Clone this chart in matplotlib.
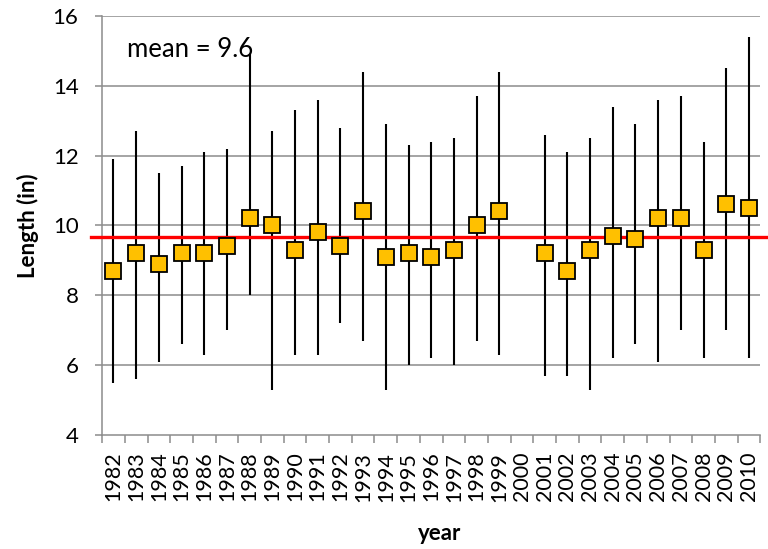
import numpy as np
import matplotlib
matplotlib.use("Agg")
import matplotlib.pyplot as plt

years = [str(y) for y in range(1982, 2011)]
mean_len = [8.7, 9.2, 8.9, 9.2, 9.2, 9.4, 10.2, 10.0, 9.3, 9.8, 9.4, 10.4, 9.1, 9.2,
            9.1, 9.3, 10.0, 10.4, np.nan, 9.2, 8.7, 9.3, 9.7, 9.6, 10.2, 10.2, 9.3, 10.6, 10.5]
max_len = [11.9, 12.7, 11.5, 11.7, 12.1, 12.2, 14.9, 12.7, 13.3, 13.6, 12.8, 14.4, 12.9, 12.3,
           12.4, 12.5, 13.7, 14.4, np.nan, 12.6, 12.1, 12.5, 13.4, 12.9, 13.6, 13.7, 12.4, 14.5, 15.4]
min_len = [5.5, 5.6, 6.1, 6.6, 6.3, 7.0, 8.0, 5.3, 6.3, 6.3, 7.2, 6.7, 5.3, 6.0,
           6.2, 6.0, 6.7, 6.3, np.nan, 5.7, 5.7, 5.3, 6.2, 6.6, 6.1, 7.0, 6.2, 7.0, 6.2]
overall_mean = 9.68
mean_label = "mean = 9.6"

plt.rcParams['font.family'] = ['Lato', 'DejaVu Sans']

fig = plt.figure(figsize=(7.68, 5.49), dpi=100)
ax = fig.add_axes([0.133, 0.2077, 0.857, 0.7633])

x = np.arange(len(years))
grid_c = '#8c8c8c'

ax.set_ylim(4, 16)
ax.set_xlim(-0.5, len(years) - 0.5)
ax.set_yticks([4, 6, 8, 10, 12, 14, 16])
for yv in [6, 8, 10, 12, 14, 16]:
    ax.axhline(yv, color=grid_c, lw=1.1, zorder=0)

ax.vlines(x, min_len, max_len, color='black', lw=1.5, zorder=2)
ax.axhline(overall_mean, xmin=-0.017, xmax=1.015, color='#ff0000', lw=2.4, zorder=3, clip_on=False)
ax.plot(x, mean_len, ls='none', marker='s', ms=11, mfc='#FFC000', mec='black', mew=1.3, zorder=4)

ax.set_xticks(x)
ax.set_xticklabels(years, rotation=90, fontsize=15.5)
ax.set_xticks(np.arange(-0.5, len(years)), minor=True)
ax.tick_params(axis='x', which='major', length=0, pad=12)
ax.tick_params(axis='x', which='minor', length=6, color=grid_c, width=1.1, direction='out')
ax.tick_params(axis='y', length=5, color=grid_c, width=1.1, labelsize=16, pad=12)

for s in ['top', 'right']:
    ax.spines[s].set_visible(False)
for s in ['left', 'bottom']:
    ax.spines[s].set_color(grid_c)
    ax.spines[s].set_linewidth(1.1)

ax.set_ylabel('Length (in)', fontsize=16, fontweight='bold', va='center')
ax.yaxis.set_label_coords(-0.1125, 0.5)
ax.set_xlabel('year', fontsize=16, fontweight='bold', va='center')
ax.xaxis.set_label_coords(0.512, -0.234)
ax.text(0.038, 0.919, mean_label, transform=ax.transAxes, fontsize=18.5, ha='left', va='center')

fig.savefig('out.png', dpi=100)
